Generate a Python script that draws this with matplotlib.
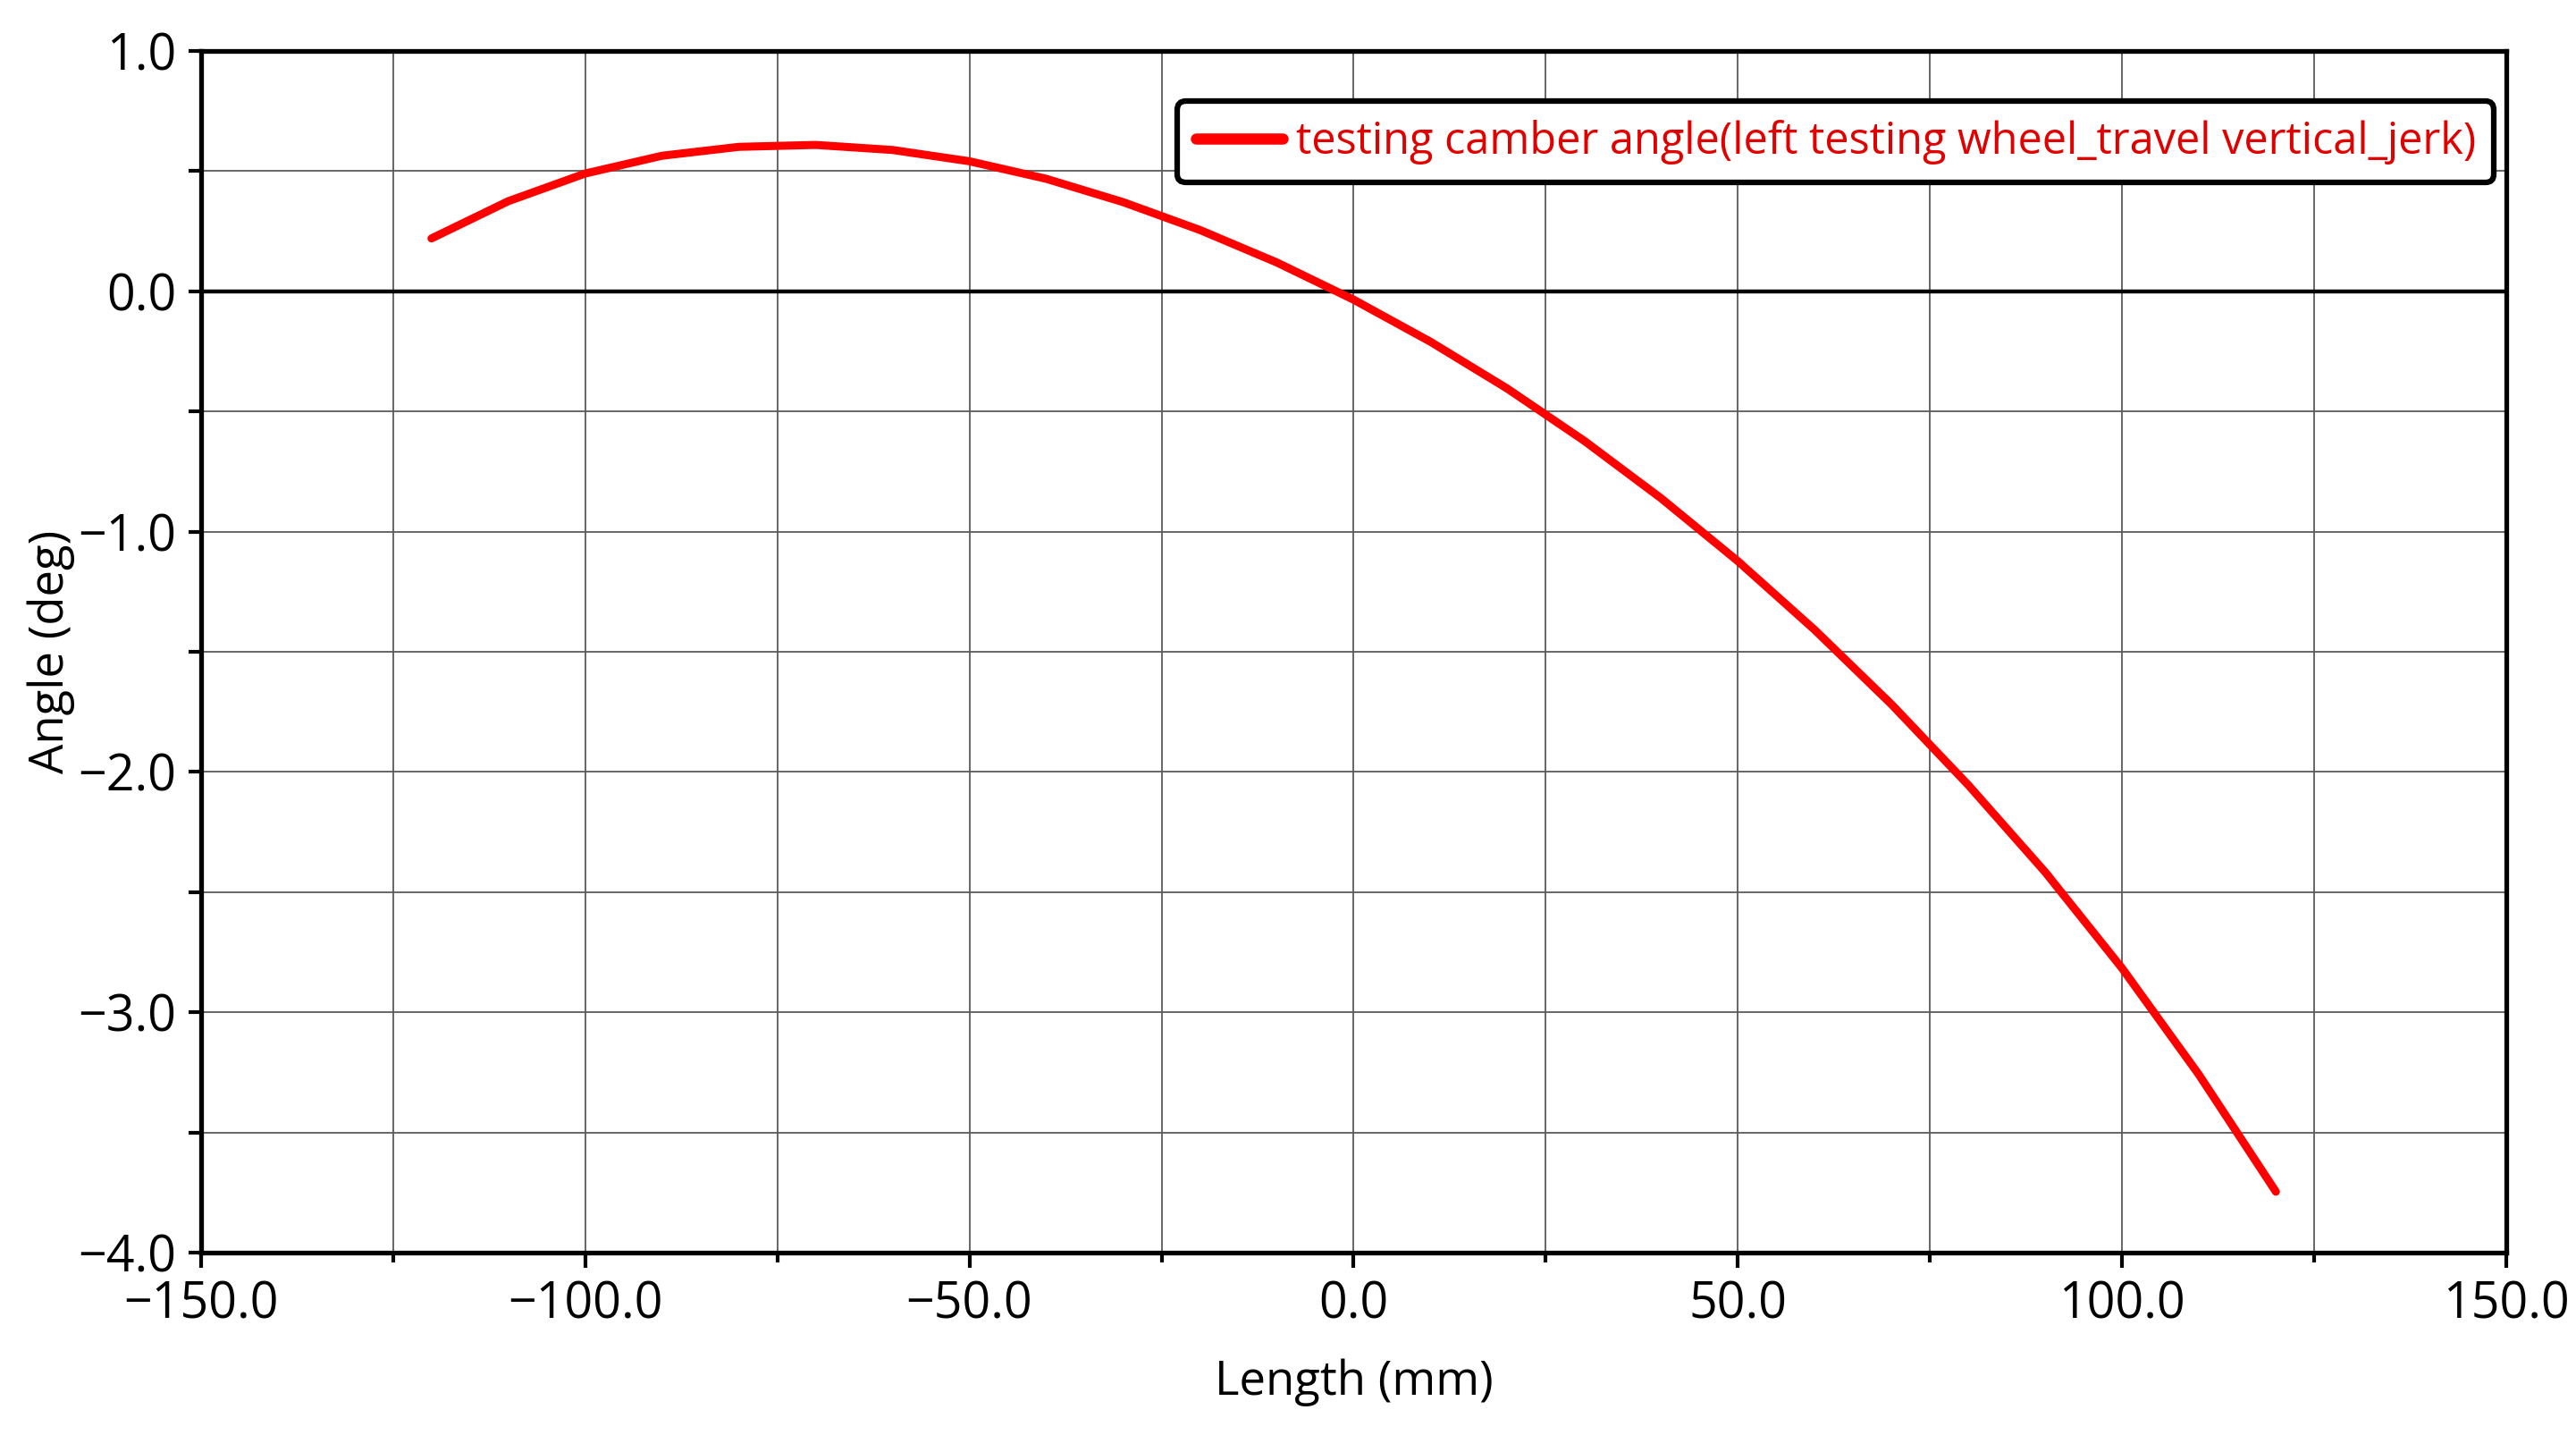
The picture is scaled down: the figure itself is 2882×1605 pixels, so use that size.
import matplotlib
matplotlib.use('Agg')
import matplotlib.pyplot as plt
from matplotlib.ticker import MultipleLocator, FuncFormatter

# values
length_mm = [-120, -110, -100, -90, -80, -70, -60, -50, -40, -30, -20, -10,
             0, 10, 20, 30, 40, 50, 60, 70, 80, 90, 100, 110, 120]
camber_deg = [0.22, 0.375, 0.49, 0.564, 0.601, 0.609, 0.588, 0.541, 0.468, 0.371, 0.255, 0.12,
              -0.035, -0.21, -0.405, -0.622, -0.861, -1.123, -1.409, -1.719, -2.055, -2.417,
              -2.817, -3.26, -3.746]
series_label = 'testing camber angle(left testing wheel_travel vertical_jerk)'
x_label = 'Length (mm)'
y_label = 'Angle (deg)'

plt.rcParams['font.family'] = ['Open Sans', 'DejaVu Sans']


def fmt(v, pos):
    s = '%.1f' % v
    return s.replace('-', '\u2212')


fig = plt.figure(figsize=(28.82, 16.05), dpi=100)
ax = fig.add_axes([0.078, 0.127, 0.895, 0.8375])

ax.plot(length_mm, camber_deg, color='#ff0000', lw=6.5, solid_capstyle='round',
        solid_joinstyle='round', label=series_label, zorder=3)
ax.axhline(0, color='black', lw=3.2, zorder=2)

ax.set_xlim(-150, 150)
ax.set_ylim(-4, 1)
ax.xaxis.set_major_locator(MultipleLocator(50))
ax.xaxis.set_minor_locator(MultipleLocator(25))
ax.yaxis.set_major_locator(MultipleLocator(1))
ax.yaxis.set_minor_locator(MultipleLocator(0.5))
ax.xaxis.set_major_formatter(FuncFormatter(fmt))
ax.yaxis.set_major_formatter(FuncFormatter(fmt))

ax.grid(True, which='both', color='#5a5a5a', lw=1.3)
ax.set_axisbelow(True)

for sp in ax.spines.values():
    sp.set_linewidth(3.8)
    sp.set_color('black')

ax.tick_params(axis='x', which='major', length=12, width=3, labelsize=40, pad=10)
ax.tick_params(axis='x', which='minor', length=8, width=3)
ax.tick_params(axis='y', which='major', length=10, width=3, labelsize=40, pad=10)
ax.tick_params(axis='y', which='minor', length=10, width=3)

ax.set_xlabel(x_label, fontsize=38, labelpad=22)
ax.set_ylabel(y_label, fontsize=38, labelpad=2)

leg = ax.legend(loc='upper right', bbox_to_anchor=(0.9946, 0.958), borderaxespad=0,
                fontsize=35, handlelength=2.0, handletextpad=0.3, borderpad=0.42,
                fancybox=True, framealpha=1, edgecolor='black')
leg.get_frame().set_linewidth(4.5)
for t in leg.get_texts():
    t.set_color('#e00000')
for h in leg.get_lines():
    h.set_linewidth(9)

fig.savefig('out.png', dpi=100)
